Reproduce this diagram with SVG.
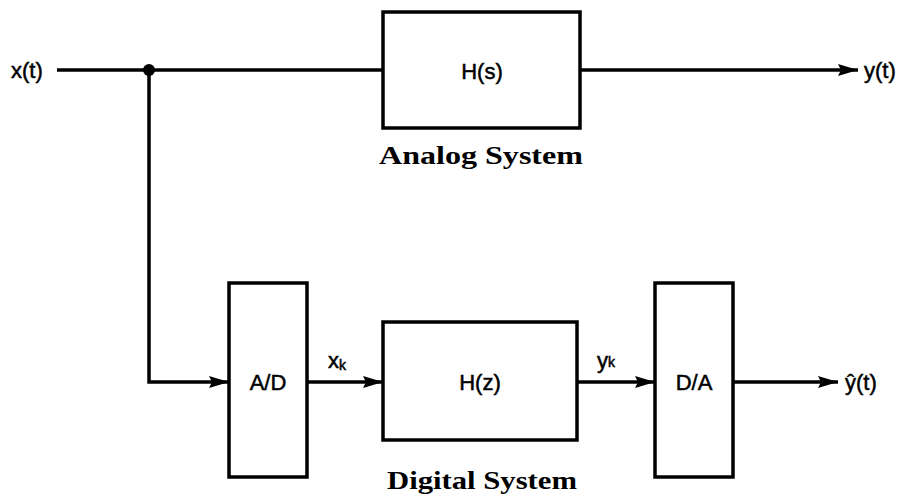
<svg xmlns="http://www.w3.org/2000/svg" width="902" height="495" viewBox="0 0 902 495">
<style>
.box{fill:#fff;stroke:#000;stroke-width:3.5}
.ln{fill:none;stroke:#000;stroke-width:3.5}
.t{font-family:"Liberation Sans",Arial,sans-serif;font-size:22px;fill:#000;stroke:#000;stroke-width:0.5}
.sub{font-size:14px}
.cap{font-family:"Liberation Serif","Times New Roman",serif;font-size:26px;font-weight:bold;fill:#000}
</style>
<defs>
<marker id="ahb" markerWidth="20" markerHeight="12" refX="20" refY="6" orient="auto" markerUnits="userSpaceOnUse" viewBox="0 0 20 12">
<path d="M0,0 L20,6 L0,12 L3,6 Z" fill="#000"/>
</marker>
</defs>
<g id="connectors">
<path class="ln" d="M57,70 H383"/>
<path class="ln" d="M580,70 H858" marker-end="url(#ahb)"/>
<path class="ln" d="M149,70 V382 H229" marker-end="url(#ahb)"/>
<path class="ln" d="M307,382 H383" marker-end="url(#ahb)"/>
<path class="ln" d="M577,382 H655" marker-end="url(#ahb)"/>
<path class="ln" d="M733,382 H838" marker-end="url(#ahb)"/>
<circle cx="149" cy="70" r="6" fill="#000"/>
</g>
<g id="x_t"><text class="t" x="11" y="78">x(t)</text></g>
<g id="y_t"><text class="t" x="864" y="78">y(t)</text></g>
<g id="Hs">
<rect class="box" x="383" y="12" width="197" height="116"/>
<text class="t" x="482" y="79" text-anchor="middle">H(s)</text>
</g>
<g id="analog_label"><text class="cap" x="379" y="164" textLength="204" lengthAdjust="spacingAndGlyphs">Analog System</text></g>
<g id="AD">
<rect class="box" x="229" y="283" width="78" height="194"/>
<text class="t" x="268" y="390" text-anchor="middle">A/D</text>
</g>
<g id="xk"><text class="t" x="328" y="368">x<tspan class="sub" dy="2">k</tspan></text></g>
<g id="Hz">
<rect class="box" x="383" y="322" width="194" height="118"/>
<text class="t" x="480" y="390" text-anchor="middle">H(z)</text>
</g>
<g id="yk"><text class="t" x="597" y="368">y<tspan class="sub" dy="-1">k</tspan></text></g>
<g id="DA">
<rect class="box" x="655" y="283" width="78" height="194"/>
<text class="t" x="694" y="390" text-anchor="middle">D/A</text>
</g>
<g id="yhat"><text class="t" x="845" y="390">ŷ(t)</text></g>
<g id="digital_label"><text class="cap" x="387" y="489" textLength="190" lengthAdjust="spacingAndGlyphs">Digital System</text></g>
</svg>
